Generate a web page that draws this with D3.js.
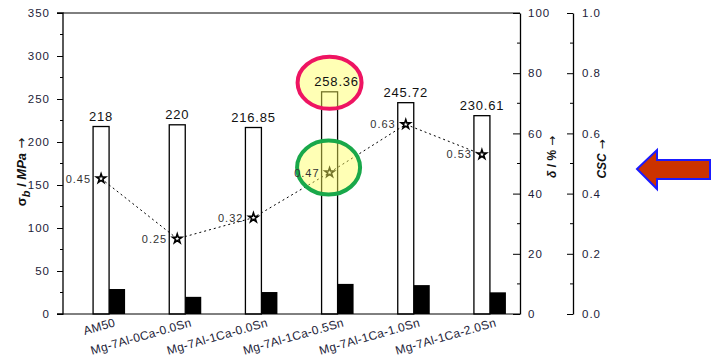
<!DOCTYPE html>
<html><head><meta charset="utf-8">
<script src="https://cdn.jsdelivr.net/npm/d3@7"></script>
<style>body{margin:0;background:#fff}svg{display:block;font-family:"Liberation Sans",Arial,sans-serif}</style>
</head><body><svg id="c" width="720" height="363"></svg>
<script>
const categories = ["AM50","Mg-7Al-0Ca-0.0Sn","Mg-7Al-1Ca-0.0Sn","Mg-7Al-1Ca-0.5Sn","Mg-7Al-1Ca-1.0Sn","Mg-7Al-1Ca-2.0Sn"];
const strength = [218, 220, 216.85, 258.36, 245.72, 230.61];
const strengthLabels = ["218","220","216.85","258.36","245.72","230.61"];
const elongation = [8.3, 5.7, 7.3, 10.0, 9.6, 7.2];
const csc = [0.45, 0.25, 0.32, 0.47, 0.63, 0.53];
const cscLabels = ["0.45","0.25","0.32","0.47","0.63","0.53"];
const leftTicks = [0,50,100,150,200,250,300,350];
const deltaTicks = [0,20,40,60,80,100];
const cscTicks = [0,0.2,0.4,0.6,0.8,1.0];
const highlightIndex = 3;

const svg = d3.select("#c");
const L = 63, R = 520, T = 13, B = 314, R2 = 573;
const x = d3.scaleBand().domain(categories).range([L, R]).padding(0);
const yL = d3.scaleLinear().domain([0,350]).range([B,T]);
const yD = d3.scaleLinear().domain([0,100]).range([B,T]);
const yC = d3.scaleLinear().domain([0,1]).range([B,T]);
const cx = c => x(c) + x.bandwidth()/2;
const bw = 16;
const tickFont = "11.5px", tickCol = "#1c1c38";

// hollow bars (strength)
svg.append("g").selectAll("rect").data(categories).join("rect")
  .attr("x", c => cx(c) - bw/2).attr("width", bw)
  .attr("y", (c,i) => yL(strength[i])).attr("height", (c,i) => B - yL(strength[i]))
  .attr("fill", "#fff").attr("stroke", "#000").attr("stroke-width", 1.3);
// black bars (elongation)
svg.append("g").selectAll("rect").data(categories).join("rect")
  .attr("x", c => cx(c) + bw/2).attr("width", bw)
  .attr("y", (c,i) => yD(elongation[i])).attr("height", (c,i) => B - yD(elongation[i]))
  .attr("fill", "#000");

// dotted CSC line
const line = d3.line().x((d,i) => cx(categories[i])).y(d => yC(d));
svg.append("path").datum(csc).attr("d", line).attr("fill","none")
  .attr("stroke","#000").attr("stroke-width",1).attr("stroke-dasharray","2,3");
svg.append("g").selectAll("path").data(csc).join("path")
  .attr("d", d3.symbol(d3.symbolStar, 26))
  .attr("transform", (d,i) => `translate(${cx(categories[i])},${yC(d)})`)
  .attr("fill","#fff").attr("stroke","#000").attr("stroke-width",1.6);

// highlight ellipses
const hc = cx(categories[highlightIndex]);
svg.append("ellipse").attr("cx", hc).attr("cy", yL(strength[highlightIndex]) - 9)
  .attr("rx", 32).attr("ry", 26).attr("fill","rgba(255,255,90,0.45)")
  .attr("stroke","#ee1462").attr("stroke-width",4);
svg.append("ellipse").attr("cx", hc - 1).attr("cy", yC(csc[highlightIndex]) - 5)
  .attr("rx", 31.5).attr("ry", 27).attr("fill","rgba(255,255,90,0.45)")
  .attr("stroke","#19a84a").attr("stroke-width",4);

// value labels
svg.append("g").selectAll("text").data(categories).join("text")
  .attr("x", (c,i) => cx(c) + (i === highlightIndex ? 7 : 0))
  .attr("y", (c,i) => yL(strength[i]) - 6)
  .attr("text-anchor","middle").attr("font-size","13px").attr("letter-spacing","0.8px")
  .attr("fill","#111").text((c,i) => strengthLabels[i]);
svg.append("g").selectAll("text").data(categories).join("text")
  .attr("x", c => cx(c) - 10).attr("y", (c,i) => yC(csc[i]) + 4)
  .attr("text-anchor","end").attr("font-size","11px").attr("letter-spacing","1px")
  .attr("fill","#333").text((c,i) => cscLabels[i]);

// frame
svg.append("line").attr("x1",L).attr("x2",R).attr("y1",T).attr("y2",T).attr("stroke","#000");
svg.append("line").attr("x1",L).attr("x2",R).attr("y1",B).attr("y2",B).attr("stroke","#000");

// left axis
const gl = svg.append("g").attr("transform",`translate(${L},0)`)
  .call(d3.axisLeft(yL).tickValues(leftTicks).tickSize(6).tickPadding(7).tickFormat(d3.format("d")));
gl.append("g").selectAll("line").data(d3.range(25,350,50)).join("line")
  .attr("x1",-3).attr("x2",0).attr("y1",d=>yL(d)).attr("y2",d=>yL(d)).attr("stroke","#000");
// delta axis (ticks inward)
const gd = svg.append("g").attr("transform",`translate(${R},0)`)
  .call(d3.axisRight(yD).tickValues(deltaTicks).tickSizeInner(-7).tickSizeOuter(0).tickPadding(8).tickFormat(d3.format("d")));
gd.append("g").selectAll("line").data(d3.range(10,100,20)).join("line")
  .attr("x1",-3).attr("x2",0).attr("y1",d=>yD(d)).attr("y2",d=>yD(d)).attr("stroke","#000");
// csc axis
const gc = svg.append("g").attr("transform",`translate(${R2},0)`)
  .call(d3.axisRight(yC).tickValues(cscTicks).tickSizeInner(-6).tickSizeOuter(0).tickPadding(9).tickFormat(d3.format(".1f")));
gc.append("g").selectAll("line").data(d3.range(0.1,1,0.2)).join("line")
  .attr("x1",-3).attr("x2",0).attr("y1",d=>yC(d)).attr("y2",d=>yC(d)).attr("stroke","#000");
[gl,gd,gc].forEach(g => {
  g.select(".domain").attr("stroke","#000").attr("stroke-width",1.3);
  g.selectAll(".tick line").attr("stroke","#000");
  g.selectAll("text").attr("font-size",tickFont).attr("fill",tickCol).attr("letter-spacing","1px")
   .attr("font-family","Liberation Sans, Arial, sans-serif");
});
gl.select(".domain").attr("d",`M-6,${B}H0V${T}H-6`);

// x labels
svg.append("g").selectAll("text").data(categories).join("text")
  .attr("transform", c => `translate(${cx(c)+15},326) rotate(-16)`)
  .attr("text-anchor","end").attr("font-size","12px").attr("fill",tickCol)
  .attr("letter-spacing","0.3px").text(c => c);

// axis titles
const t1 = svg.append("text").attr("transform","translate(26,172) rotate(-90)")
  .attr("text-anchor","middle").attr("font-size","13px").attr("font-weight","bold").attr("fill","#111");
t1.append("tspan").text("σ");
t1.append("tspan").attr("dy",4).attr("font-size","11px").attr("font-style","italic").text("b");
t1.append("tspan").attr("dy",-4).text(" / ");
t1.append("tspan").attr("font-style","italic").text("MPa");
t1.append("tspan").attr("font-family","DejaVu Sans").attr("font-weight","normal").text(" →");
const t2 = svg.append("text").attr("transform","translate(556,157) rotate(-90)")
  .attr("text-anchor","middle").attr("font-size","12px").attr("font-weight","bold").attr("fill","#111");
t2.append("tspan").attr("font-style","italic").text("δ");
t2.append("tspan").text(" / %");
t2.append("tspan").attr("font-family","DejaVu Sans").attr("font-weight","normal").text(" →");
const t3 = svg.append("text").attr("transform","translate(606,159) rotate(-90)")
  .attr("text-anchor","middle").attr("font-size","12px").attr("font-weight","bold").attr("fill","#111");
t3.append("tspan").attr("font-style","italic").text("CSC");
t3.append("tspan").attr("font-family","DejaVu Sans").attr("font-weight","normal").text(" →");

// arrow
svg.append("polygon")
  .attr("points","637,169 657,150 657,160 710,160 710,179 657,179 657,189")
  .attr("fill","#cc3300").attr("stroke","#1a1aff").attr("stroke-width",2).attr("stroke-linejoin","miter");
</script></body></html>
